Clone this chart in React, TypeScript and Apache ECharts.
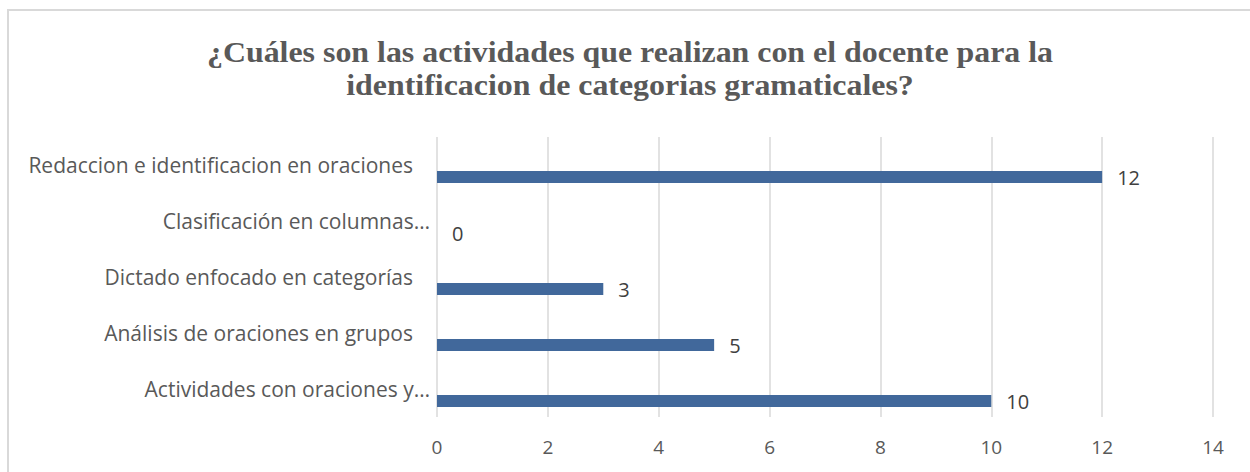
import React, { useEffect, useRef } from "react";
import * as echarts from "echarts";

const TITLE_LINES = [
  "¿Cuáles son las actividades que realizan con el docente para la",
  "identificacion de categorias gramaticales?",
];
// top to bottom as shown
const categories = [
  "Redaccion e identificacion en oraciones",
  "Clasificación en columnas…",
  "Dictado enfocado en categorías",
  "Análisis de oraciones en grupos",
  "Actividades con oraciones y…",
];
const values = [12, 0, 3, 5, 10];
const emptyValues = [null, null, null, null, null];
const xMin = 0;
const xMax = 14;
const xStep = 2;

export default function App() {
  const ref = useRef<HTMLDivElement>(null);
  useEffect(() => {
    if (!ref.current) return;
    const chart = echarts.init(ref.current, null, { renderer: "svg" });
    const labelFont = "'Open Sans', sans-serif";
    const titleStyle = {
      fontFamily: "'Liberation Serif', serif",
      fontWeight: "bold",
      fontSize: 29,
      fill: "#595959",
      align: "center",
      verticalAlign: "middle",
    };
    chart.setOption({
      animation: false,
      backgroundColor: "#ffffff",
      graphic: [
        {
          type: "rect",
          shape: { x: 8, y: 10, width: 1260, height: 480 },
          style: { fill: "none", stroke: "#d9d9d9", lineWidth: 2 },
          silent: true,
        },
        {
          type: "text",
          x: 630,
          y: 52,
          scaleX: 1.1,
          style: { ...titleStyle, text: TITLE_LINES[0] },
        },
        {
          type: "text",
          x: 630,
          y: 85,
          scaleX: 1.1,
          style: { ...titleStyle, text: TITLE_LINES[1] },
        },
      ],
      grid: { left: 437, right: 37, top: 137, bottom: 55, containLabel: false },
      xAxis: {
        type: "value",
        min: xMin,
        max: xMax,
        interval: xStep,
        axisLine: { show: false },
        axisTick: { show: false },
        splitLine: { show: true, lineStyle: { color: "#d9d9d9", width: 1.5 } },
        axisLabel: {
          margin: 20,
          fontFamily: labelFont,
          fontSize: 19,
          color: "#595959",
        },
      },
      yAxis: {
        type: "category",
        inverse: true,
        data: categories,
        axisLine: { show: false },
        axisTick: { show: false },
        axisLabel: {
          margin: 7,
          fontFamily: labelFont,
          fontSize: 21,
          color: "#595959",
          formatter: (v: string) =>
            v.endsWith("…") ? `{a|${v}}` : `{b|${v}}`,
          rich: {
            a: { fontFamily: labelFont, fontSize: 21, color: "#595959" },
            b: { fontFamily: labelFont, fontSize: 21, color: "#595959", padding: [0, 17, 0, 0] },
          },
        },
      },
      series: [
        {
          type: "bar",
          data: emptyValues,
          barWidth: 12,
          barGap: "100%",
          itemStyle: { color: "transparent" },
          silent: true,
        },
        {
          type: "bar",
          data: values,
          barWidth: 12,
          barGap: "100%",
          itemStyle: { color: "#41689b" },
          label: {
            show: true,
            position: "right",
            distance: 15,
            fontFamily: labelFont,
            fontSize: 20,
            color: "#404040",
          },
        },
      ],
    });
    return () => chart.dispose();
  }, []);
  return (
    <div
      ref={ref}
      style={{ position: "fixed", left: 0, top: 0, width: 1250, height: 472 }}
    />
  );
}
